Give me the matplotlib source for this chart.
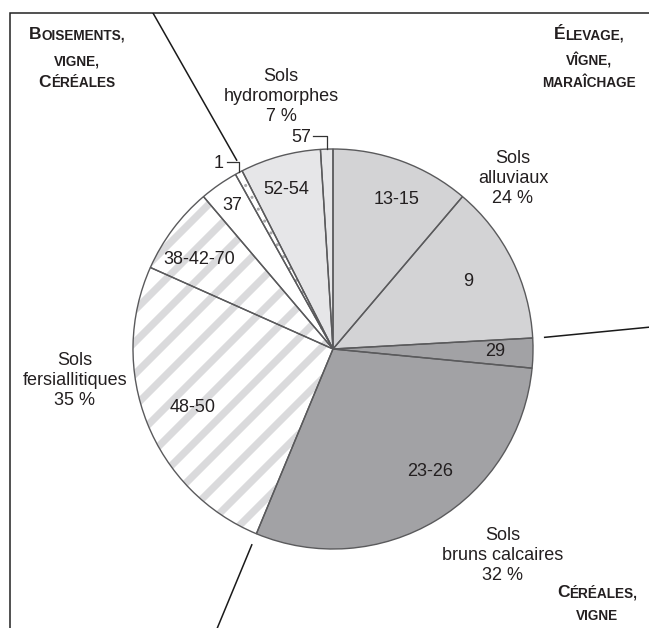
import matplotlib
matplotlib.use('Agg')
import matplotlib.pyplot as plt
import numpy as np
from matplotlib.patches import Rectangle
from matplotlib.lines import Line2D

plt.rcParams['font.family'] = ['Liberation Sans', 'DejaVu Sans']

# ---------------- data ----------------
slice_labels = ['13-15', '9', '29', '23-26', '48-50', '38-42-70', '37', '1', '52-54', '57']
slice_values = [11.2, 12.9, 2.4, 29.7, 25.4, 7.1, 3.1, 0.6, 6.5, 1.0]
slice_group = [0, 0, 1, 1, 2, 2, 2, 2, 3, 3]
group_names = ['Sols\nalluviaux', 'Sols\nbruns calcaires', 'Sols\nfersiallitiques', 'Sols\nhydromorphes']
group_pcts = [24, 32, 35, 7]
zone_top_left = [[('B', 'big'), ('OISEMENTS,', 'small')], [('VIGNE,', 'small')], [('C', 'big'), ('ÉRÉALES', 'small')]]
zone_top_right = [[('É', 'big'), ('LEVAGE,', 'small')], [('VÎGNE,', 'small')], [('MARAÎCHAGE', 'small')]]
zone_bottom_right = [[('C', 'big'), ('ÉRÉALES,', 'small')], [('VIGNE', 'small')]]

# ---------------- style ----------------
W, H = 649, 628
CX, CY, R = 333, 349, 200          # pixel coords (y down)
slice_colors = ['#d3d3d5', '#d3d3d5', '#a2a2a5', '#a2a2a5', 'white', 'white', 'white', 'white', '#e6e6e8', '#e6e6e8']
striped = [False, False, False, False, True, True, False, False, False, False]
dotted = [False, False, False, False, False, False, False, True, False, False]
sep_tilt = [-2.4, 0.0, -2.6]       # direction tweak (deg) of the three zone separators
edge_col = '#5a5a5c'
txt_col = '#231f20'
FS = 13

def P(x, y):
    return (x, H - y)

fig = plt.figure(figsize=(W / 100, H / 100), dpi=100)
ax = fig.add_axes([0, 0, 1, 1])

wedges, _ = ax.pie(slice_values, startangle=90, counterclock=False,
                   center=P(CX, CY), radius=R, colors=slice_colors,
                   wedgeprops=dict(edgecolor='none', linewidth=0))
for w in wedges:
    w.set_zorder(1)

# stripes
for w, s in zip(wedges, striped):
    if not s:
        continue
    for c in np.arange(-1200, 1200, 32.0):
        xs = np.array([-100, 800])
        ln = Line2D(xs, xs + c + 7, color='#dadadc', lw=5.2, zorder=1.5, solid_capstyle='butt')
        ax.add_line(ln)
        ln.set_clip_path(w)

# outlines on top
wedges2, _ = ax.pie(slice_values, startangle=90, counterclock=False,
                    center=P(CX, CY), radius=R,
                    wedgeprops=dict(facecolor='none', edgecolor=edge_col, linewidth=1.0))
for w in wedges2:
    w.set_zorder(3)

# dotted slice
total = sum(slice_values)
cum = np.concatenate([[0], np.cumsum(slice_values)]) / total * 360.0
for i, d in enumerate(dotted):
    if not d:
        continue
    mid = (cum[i] + cum[i + 1]) / 2
    th = np.deg2rad(mid)
    rr = np.array([0.12, 0.96]) * R
    xs = CX + rr * np.sin(th)
    ys = CY - rr * np.cos(th)
    ax.add_line(Line2D(xs, H - ys, color='#a9a9ab', lw=2.3, linestyle=(0, (0.01, 4.2)),
                       dash_capstyle='round', zorder=2))

# frame
frame = Rectangle(P(10, H + 20), W + 40, H + 20 - 13, fill=False, edgecolor='#222222', lw=1.1, zorder=4)
ax.add_patch(frame)

# group separator lines (start at the group boundary just outside the pie)
groups = np.array(slice_group)
for g in range(3):
    idx = np.where(groups == g)[0][-1] + 1
    ang = np.deg2rad(cum[idx])
    x0 = CX + 1.06 * R * np.sin(ang)
    y0 = CY - 1.06 * R * np.cos(ang)
    dang = ang + np.deg2rad(sep_tilt[g])
    x1 = x0 + 3 * R * np.sin(dang)
    y1 = y0 - 3 * R * np.cos(dang)
    ln = Line2D([x0, x1], [H - y0, H - y1], color='#1a1a1a', lw=1.1, zorder=4)
    ax.add_line(ln)
    ln.set_clip_path(frame)

# slice labels (pixel coords of centers)
label_pos = {'13-15': (397, 199), '9': (468, 282), '29': (495, 352), '23-26': (430, 472),
             '48-50': (193, 407), '38-42-70': (199, 260), '37': (232, 205), '52-54': (286, 190)}
for lab in slice_labels:
    if lab in label_pos:
        ax.text(*P(*label_pos[lab]), lab, fontsize=FS, color=txt_col, ha='center', va='center', zorder=5)

# leader labels
ax.text(*P(311, 138), '57', fontsize=FS, color=txt_col, ha='right', va='center', zorder=5)
ax.add_line(Line2D([313, 327, 327], [H - 136, H - 136, H - 149], color='#333', lw=0.9, zorder=5))
ax.text(*P(224, 163), '1', fontsize=FS, color=txt_col, ha='right', va='center', zorder=5)
ax.add_line(Line2D([227, 239, 239], [H - 162, H - 162, H - 172], color='#333', lw=0.9, zorder=5))

# group labels: (center x, last-line baseline)
group_pos = [(513, 203), (503, 580), (75, 405), (281, 121)]
for name, pct, (gx, gy) in zip(group_names, group_pcts, group_pos):
    ax.text(*P(gx, gy), f'{name}\n{pct} %', fontsize=FS, color=txt_col, ha='center',
            va='baseline', multialignment='center', linespacing=1.22, zorder=5)

# small-caps zone labels
sizes = {'big': 12.5, 'small': 9.8}
renderer = fig.canvas.get_renderer()
def smallcaps(lines, xc, baselines):
    for runs, yb in zip(lines, baselines):
        ts = [ax.text(0, 0, s, fontsize=sizes[k], fontweight='bold', color=txt_col,
                      ha='left', va='baseline', zorder=5) for s, k in runs]
        ws = [t.get_window_extent(renderer).width for t in ts]
        cur = xc - sum(ws) / 2
        for t, w in zip(ts, ws):
            t.set_position(P(cur, yb))
            cur += w

smallcaps(zone_top_left, 77, [39, 65, 87])
smallcaps(zone_top_right, 589, [39, 65, 87])
smallcaps(zone_bottom_right, 597, [597, 620])

ax.set_xlim(0, W)
ax.set_ylim(0, H)
ax.set_aspect('equal')
ax.axis('off')
fig.savefig('out.png', dpi=100)
